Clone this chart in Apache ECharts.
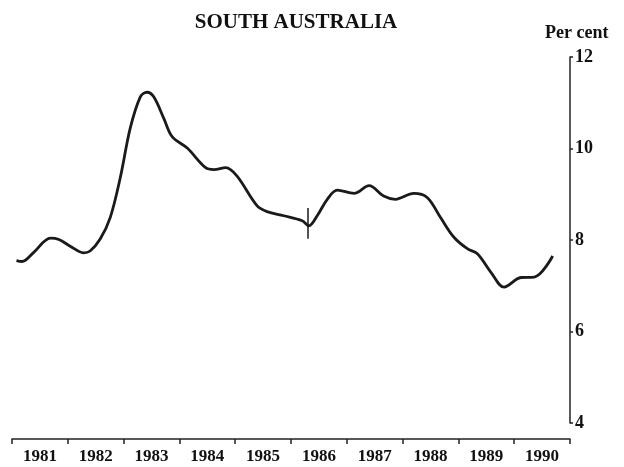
<!DOCTYPE html>
<html>
<head>
<meta charset="utf-8">
<script src="https://cdn.jsdelivr.net/npm/echarts@6/dist/echarts.min.js"></script>
<style>
  html, body { margin: 0; padding: 0; background: #fff; }
  #chart { width: 624px; height: 467px; }
</style>
</head>
<body>
<div id="chart"></div>
<script>
// years shown on the x axis (labels sit in the middle of each year)
const years = ["1981", "1982", "1983", "1984", "1985", "1986", "1987", "1988", "1989", "1990"];
// time (fractional year) and rate
const times = [1981.08, 1981.18, 1981.39, 1981.69, 1981.84, 1982.05, 1982.28, 1982.40, 1982.58, 1982.76,
  1982.94, 1983.12, 1983.30, 1983.42, 1983.54, 1983.72, 1983.87, 1984.14, 1984.47, 1984.62,
  1984.83, 1985.03, 1985.39, 1985.57, 1985.87, 1986.20, 1986.32, 1986.47, 1986.65, 1986.83,
  1987.13, 1987.40, 1987.66, 1987.87, 1988.20, 1988.44, 1988.68, 1988.92, 1989.16, 1989.34,
  1989.58, 1989.82, 1990.12, 1990.36, 1990.69];
const rates = [7.55, 7.53, 7.73, 8.04, 8.01, 7.86, 7.72, 7.76, 8.02, 8.49,
  9.36, 10.45, 11.13, 11.23, 11.13, 10.66, 10.26, 10.01, 9.58, 9.54,
  9.58, 9.40, 8.75, 8.62, 8.53, 8.42, 8.31, 8.53, 8.89, 9.09,
  9.02, 9.19, 8.96, 8.89, 9.02, 8.93, 8.49, 8.06, 7.81, 7.70,
  7.30, 6.97, 7.18, 7.19, 7.65];
// series break marker (vertical stroke across the line)
const breakTime = 1986.3;
const breakRange = [8.03, 8.7];
const yTicks = [4, 6, 8, 10, 12];

const serif = "Liberation Serif";
const chart = echarts.init(document.getElementById("chart"));

const option = {
  animation: false,
  backgroundColor: "#fff",
  title: {
    text: "SOUTH AUSTRALIA",
    left: 291,
    textAlign: "center",
    top: 7,
    textStyle: { fontFamily: serif, fontWeight: "bold", fontSize: 21, color: "#111" }
  },
  graphic: [{
    type: "text",
    left: 545,
    top: 24,
    style: { text: "Per cent", fontFamily: serif, fontWeight: "bold", fontSize: 18, fill: "#111" }
  }],
  grid: { left: 12, right: 54, top: 57, bottom: 44 },
  xAxis: [
    {
      // year labels and year-boundary ticks
      type: "category",
      data: years,
      boundaryGap: true,
      offset: 16,
      axisLine: { lineStyle: { color: "#222", width: 1.5 } },
      axisTick: { show: true, length: 5, alignWithLabel: false, lineStyle: { color: "#222", width: 1.5 } },
      axisLabel: { fontFamily: serif, fontWeight: "bold", fontSize: 17, color: "#111", margin: 9 },
      splitLine: { show: false }
    },
    {
      // hidden time axis for the data
      type: "value",
      min: 1981,
      max: 1991,
      show: false
    }
  ],
  yAxis: {
    type: "value",
    position: "right",
    min: yTicks[0],
    max: yTicks[yTicks.length - 1],
    interval: 2,
    axisLine: { show: true, lineStyle: { color: "#222", width: 1.5 } },
    axisTick: { show: true, length: 3, lineStyle: { color: "#222", width: 1.5 } },
    axisLabel: { fontFamily: serif, fontWeight: "bold", fontSize: 18, color: "#111", margin: 5,
      padding: [5, 0, 0, 0] },
    splitLine: { show: false }
  },
  series: [{
    type: "line",
    xAxisIndex: 1,
    data: times.map((t, i) => [t, rates[i]]),
    smooth: 0.35,
    showSymbol: false,
    lineStyle: { color: "#1a1a1a", width: 2.8 },
    markLine: {
      silent: true,
      symbol: "none",
      label: { show: false },
      lineStyle: { color: "#1a1a1a", width: 1.5, type: "solid" },
      data: [[{ coord: [breakTime, breakRange[0]] }, { coord: [breakTime, breakRange[1]] }]]
    }
  }]
};

chart.setOption(option);
</script>
</body>
</html>
